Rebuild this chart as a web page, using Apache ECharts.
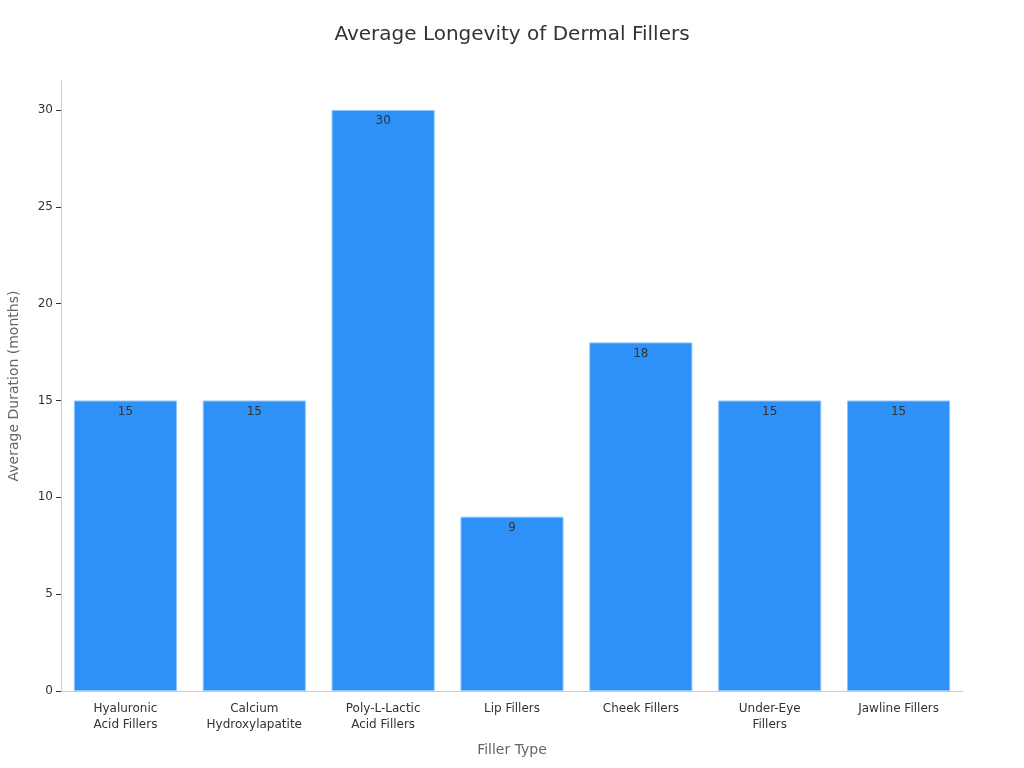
<!DOCTYPE html>
<html>
<head>
<meta charset="utf-8">
<script src="https://cdn.jsdelivr.net/npm/echarts@6/dist/echarts.min.js"></script>
<style>html,body{margin:0;padding:0;background:#fff}#c{width:1024px;height:768px}</style>
</head>
<body>
<div id="c"></div>
<script>
const categories = ["Hyaluronic\nAcid Fillers", "Calcium\nHydroxylapatite", "Poly-L-Lactic\nAcid Fillers", "Lip Fillers", "Cheek Fillers", "Under-Eye\nFillers", "Jawline Fillers"];
const durations = [15, 15, 30, 9, 18, 15, 15];
const yTicks = [0, 5, 10, 15, 20, 25, 30];

const chart = echarts.init(document.getElementById('c'));
chart.setOption({
  animation: false,
  textStyle: { fontFamily: 'DejaVu Sans' },
  title: {
    text: 'Average Longevity of Dermal Fillers',
    left: 'center', top: 20,
    textStyle: { fontSize: 20, fontWeight: 'normal', color: '#333', fontFamily: 'DejaVu Sans' }
  },
  grid: { left: 61, right: 61, top: 81, bottom: 77, outerBoundsMode: 'none', containLabel: false },
  xAxis: {
    type: 'category',
    data: categories,
    name: 'Filler Type',
    nameLocation: 'middle',
    nameGap: 52,
    nameTextStyle: { color: '#666', fontSize: 14 },
    axisLine: { lineStyle: { color: '#ccc' } },
    axisTick: { alignWithLabel: true, lineStyle: { color: '#333' } },
    axisLabel: { color: '#333', fontSize: 12, interval: 0, lineHeight: 16, margin: 10 },
  },
  yAxis: {
    type: 'value',
    min: 0, max: 31.5,
    name: 'Average Duration (months)',
    nameLocation: 'middle',
    nameGap: 40,
    nameTextStyle: { color: '#666', fontSize: 14 },
    axisLine: { show: true, lineStyle: { color: '#ccc' } },
    axisTick: { show: true, customValues: yTicks, lineStyle: { color: '#333' } },
    axisLabel: { color: '#333', fontSize: 12, customValues: yTicks },
    splitLine: { show: false }
  },
  series: [{
    type: 'bar',
    data: durations,
    barCategoryGap: '20%',
    itemStyle: { color: '#2E91F7', borderColor: '#8CC4FA', borderWidth: 1 },
    label: { show: true, position: 'insideTop', color: '#333', fontSize: 12, offset: [0, 0] }
  }]
});
</script>
</body>
</html>
